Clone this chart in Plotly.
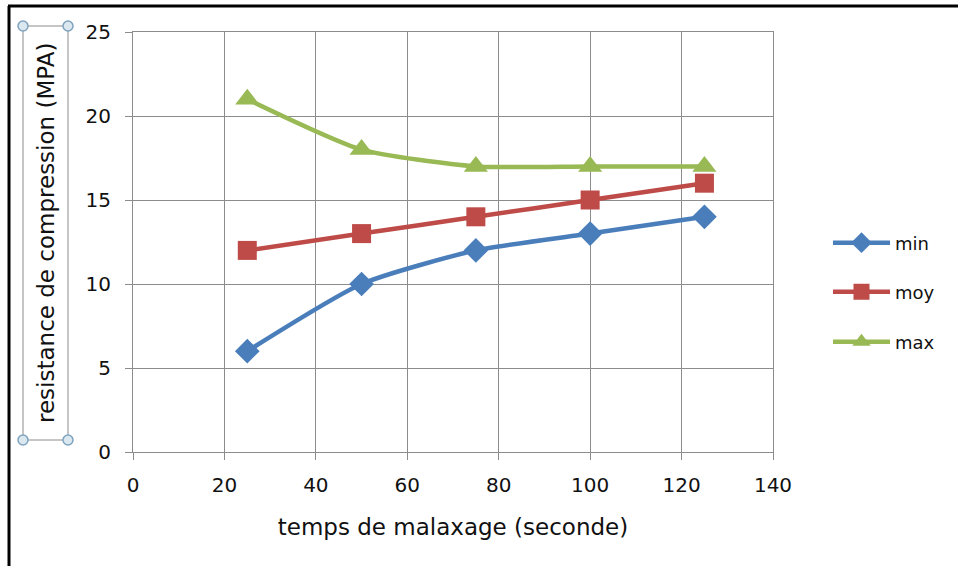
import plotly.graph_objects as go

x_vals = [25, 50, 75, 100, 125]
min_vals = [6, 10, 12, 13, 14]
moy_vals = [12, 13, 14, 15, 16]
max_vals = [21, 18, 17, 17, 17]
series_names = ["min", "moy", "max"]
colors = ["#4a7ebb", "#be4b48", "#98b954"]
symbols = ["diamond", "square", "triangle-up"]
marker_sizes = [19, 19, 21]

W, H = 961, 566
L, R, T, B = 133, 773, 32, 452


def px(xp):
    return (xp - L) / (R - L)


def py(yp):
    return (B - yp) / (B - T)


fig = go.Figure()
legends = ["legend", "legend2", "legend3"]
for name, vals, c, s, ms, lg in zip(series_names, [min_vals, moy_vals, max_vals], colors, symbols, marker_sizes, legends):
    fig.add_trace(go.Scatter(
        x=x_vals, y=vals, name=name, mode="lines+markers",
        line=dict(color=c, width=4.5, shape="spline", smoothing=0.6),
        marker=dict(symbol=s, size=ms, color=c),
        legend=lg,
    ))

font = "DejaVu Sans, sans-serif"
leg_common = dict(xanchor="left", yanchor="middle", itemwidth=57,
                  font=dict(family=font, size=18, color="#111"),
                  bgcolor="rgba(0,0,0,0)", borderwidth=0)

fig.update_layout(
    width=W, height=H,
    margin=dict(l=L, r=W - R, t=T, b=H - B),
    paper_bgcolor="white", plot_bgcolor="white",
    showlegend=True,
    legend=dict(x=px(828), y=py(243), **leg_common),
    legend2=dict(x=px(828), y=py(292), **leg_common),
    legend3=dict(x=px(828), y=py(342), **leg_common),
    xaxis=dict(range=[0, 140], dtick=20, showgrid=True, gridcolor="#8c8c8c", gridwidth=1,
               showline=True, linecolor="#8c8c8c", linewidth=1, mirror=True,
               ticks="outside", ticklen=7, tickcolor="#8c8c8c", ticklabelstandoff=8,
               tickfont=dict(family=font, size=20, color="#111"), zeroline=False,
               title=dict(text="temps de malaxage (seconde)", font=dict(family=font, size=23, color="#111"), standoff=22)),
    yaxis=dict(range=[0, 25], dtick=5, showgrid=True, gridcolor="#8c8c8c", gridwidth=1,
               showline=True, linecolor="#8c8c8c", linewidth=1, mirror=True,
               ticks="outside", ticklen=7, tickcolor="#8c8c8c", ticklabelstandoff=10,
               tickfont=dict(family=font, size=20, color="#111"), zeroline=False),
)

# y-axis title (selected text box look)
fig.add_annotation(text="resistance de compression (MPA)", textangle=-90,
                   xref="paper", yref="paper", x=px(46), y=py(233),
                   xanchor="center", yanchor="middle",
                   showarrow=False, font=dict(family=font, size=23, color="#111"))

shapes = []
# text box frame
shapes.append(dict(type="rect", xref="paper", yref="paper", x0=px(23), x1=px(68), y0=py(440), y1=py(26),
                   line=dict(color="#8c8c8c", width=1), fillcolor="rgba(0,0,0,0)"))
for cx, cy in [(23, 26), (68, 26), (23, 440), (68, 440)]:
    shapes.append(dict(type="circle", xref="paper", yref="paper",
                       x0=px(cx - 5), x1=px(cx + 5), y0=py(cy + 5), y1=py(cy - 5),
                       line=dict(color="#7fa3bd", width=1.5), fillcolor="#dbe8f0"))
# chart border (left and top)
shapes.append(dict(type="line", xref="paper", yref="paper", x0=px(9), x1=px(9), y0=py(6), y1=py(570),
                   line=dict(color="black", width=3)))
shapes.append(dict(type="line", xref="paper", yref="paper", x0=px(8), x1=px(958), y0=py(6), y1=py(6),
                   line=dict(color="black", width=3)))
fig.update_layout(shapes=shapes)

fig.write_html("out.html")
